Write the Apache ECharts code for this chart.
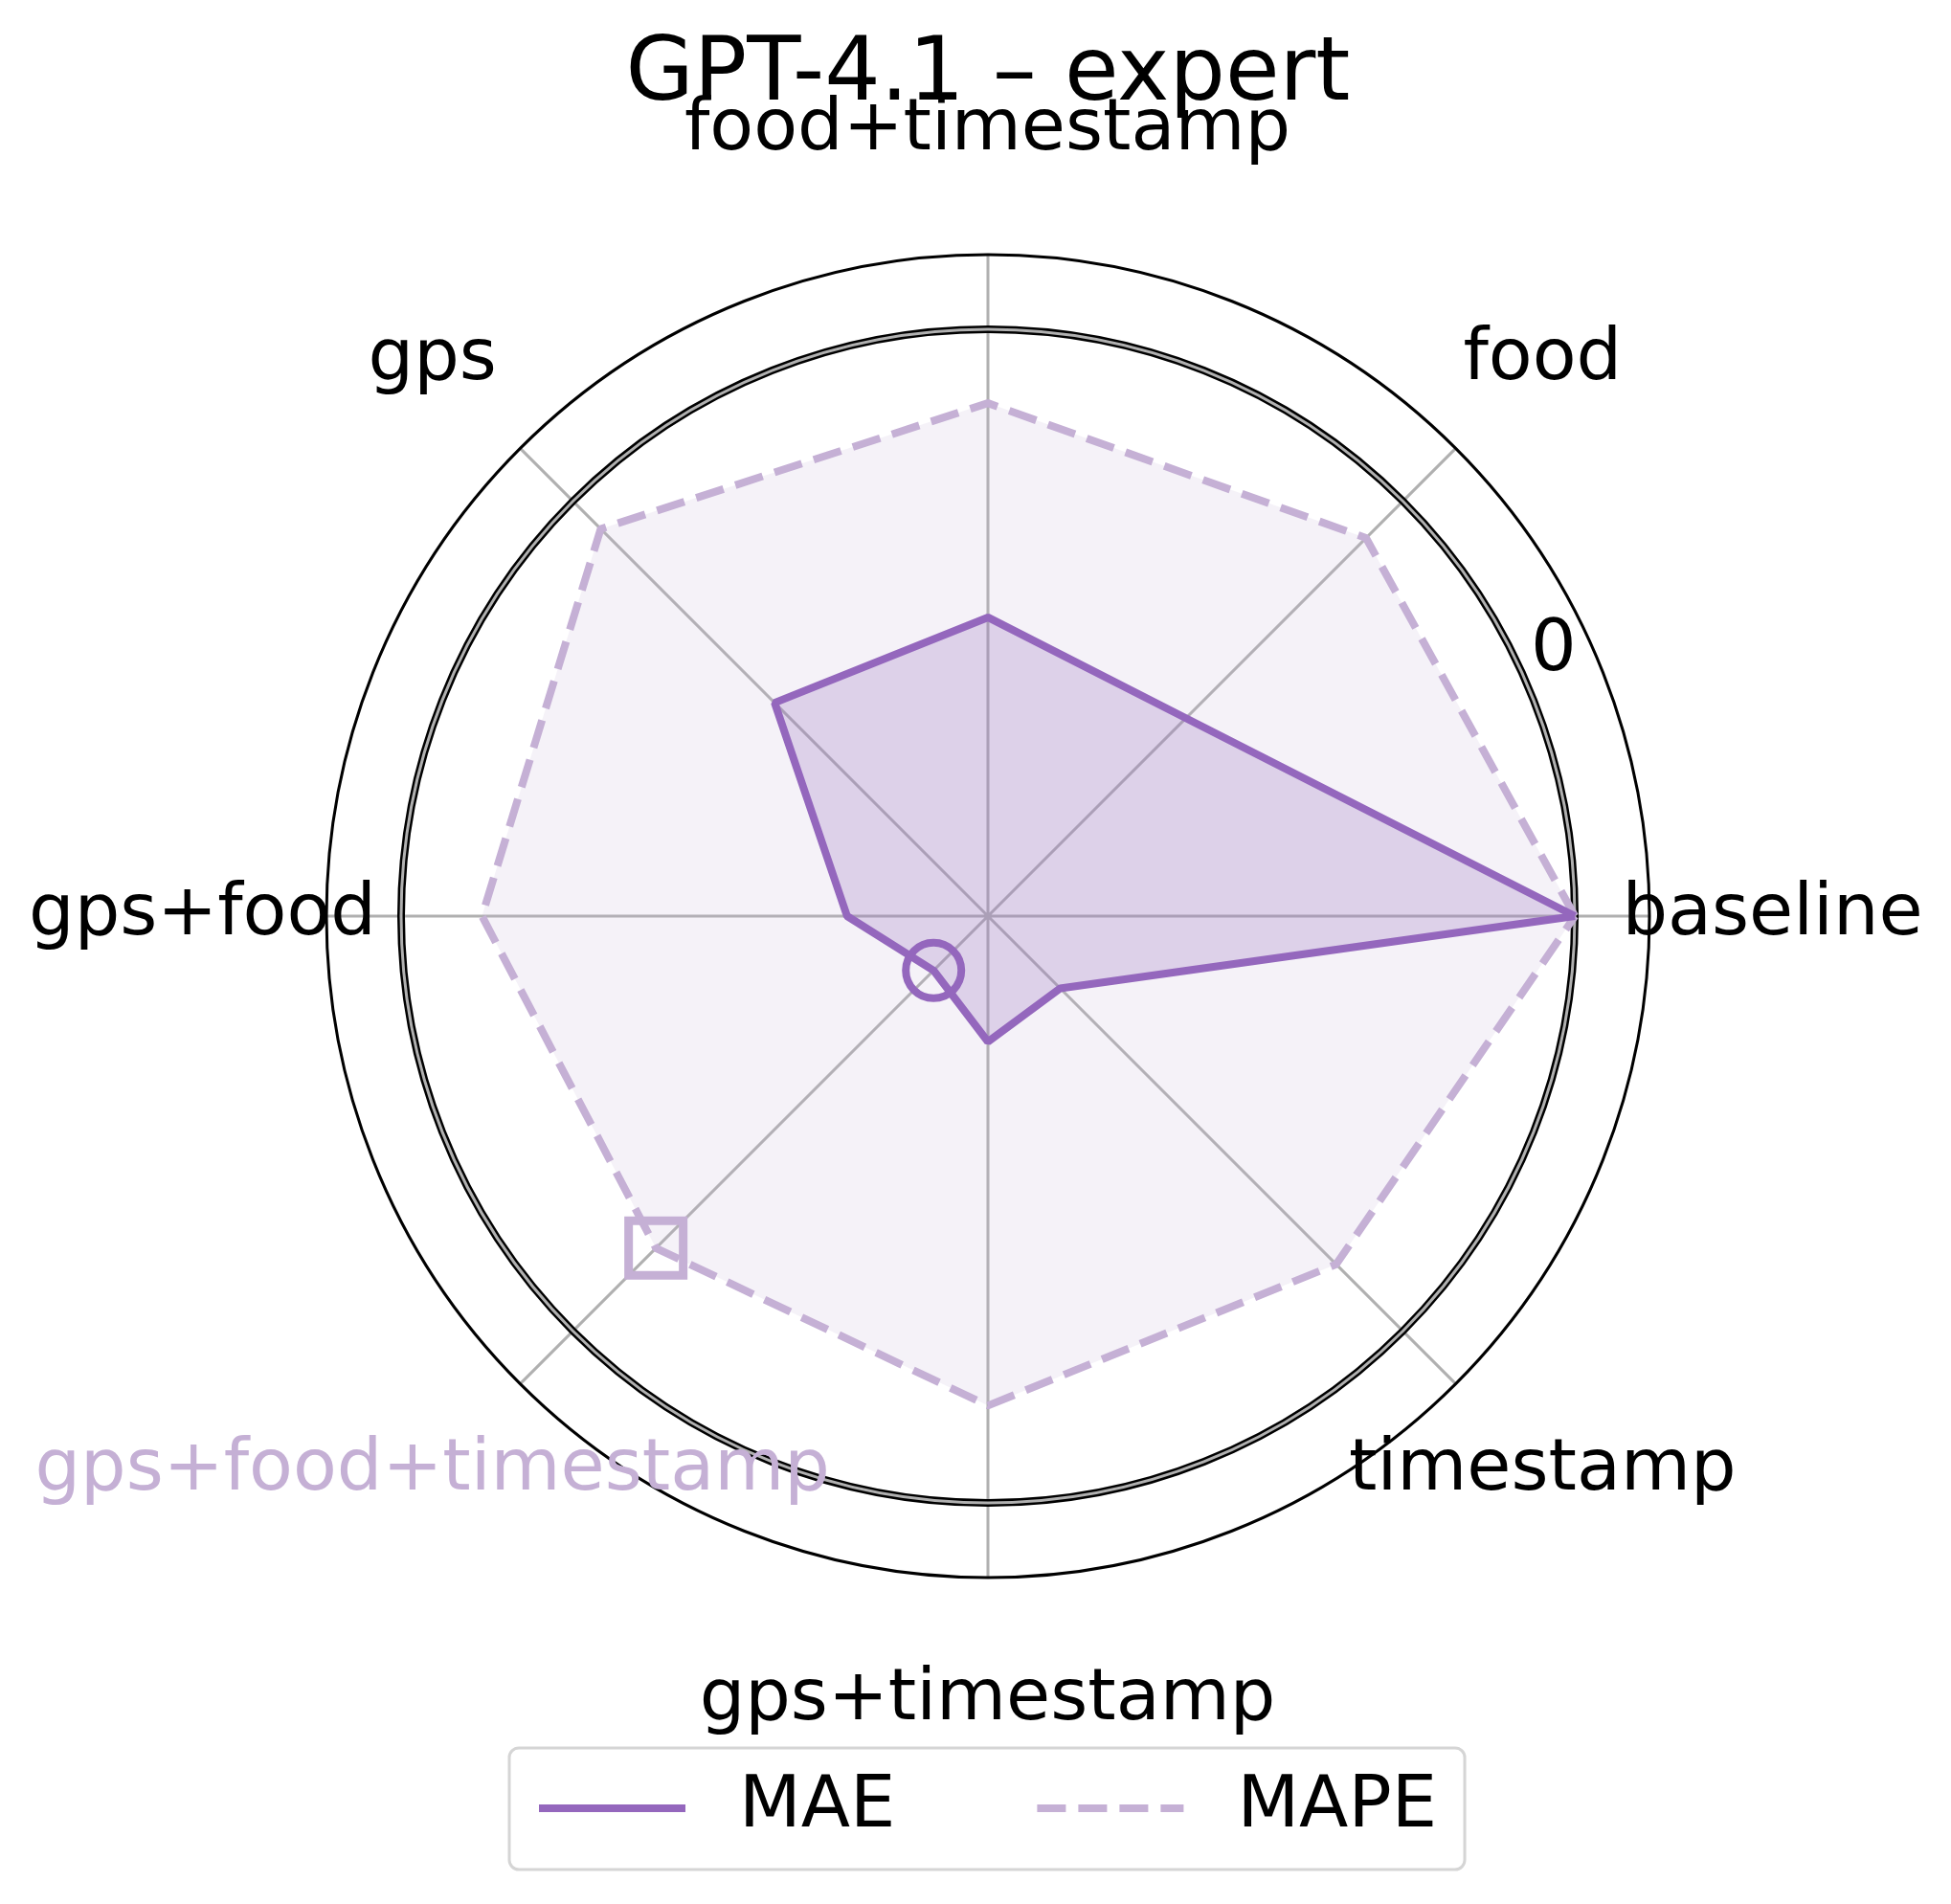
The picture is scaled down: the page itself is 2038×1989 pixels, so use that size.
<!DOCTYPE html>
<html>
<head>
<meta charset="utf-8">
<script src="https://cdn.jsdelivr.net/npm/echarts@6/dist/echarts.min.js"></script>
<style>
  html, body { margin: 0; padding: 0; background: #ffffff; }
  #chart { width: 2038px; height: 1989px; }
</style>
</head>
<body>
<div id="chart"></div>
<script>
// ---- data ----
const chartTitle = 'GPT-4.1 \u2013 expert';
const categories = ['baseline', 'food', 'food+timestamp', 'gps', 'gps+food', 'gps+food+timestamp', 'gps+timestamp', 'timestamp'];
const maeValues  = [1.000, 0.477, 0.509, 0.514, 0.240, 0.131, 0.214, 0.174];
const mapeValues = [1.000, 0.911, 0.874, 0.933, 0.862, 0.800, 0.834, 0.839];
const highlightIndex = 5;           // gps+food+timestamp
const seriesNames = ['MAE', 'MAPE'];
const radialTickLabels = ['0'];
const radialTickValues = [1.064];
const radialTickAngle = 25;
const ringValue = 1.0;              // highlighted reference ring
const radialMax = 1.127;

// ---- layout / style ----
const CX = 1032, CY = 957;
const R_OUTER = 691;
const R_RING = Math.round(R_OUTER * ringValue / radialMax);
const R_LABEL = 820;
const FONT = 'DejaVu Sans';
const MAE_COLOR = '#9467bd';
const MAPE_COLOR = '#c5b0d5';

const n = categories.length;
const angleOf = i => i * 360 / n;
function closedSeries(vals) {
  const pts = vals.map((v, i) => [v, angleOf(i)]);
  pts.push([vals[0], 360]);
  return pts;
}

function hiddenRadius(idx, max) {
  return { polarIndex: idx, type: 'value', min: 0, max: max, show: false,
           axisLine: {show: false}, axisTick: {show: false}, axisLabel: {show: false}, splitLine: {show: false} };
}
function ringAngle(idx, color, width, z) {
  return { polarIndex: idx, type: 'value', min: 0, max: 360, startAngle: 0, clockwise: false, z: z,
           axisLine: {show: true, lineStyle: {color: color, width: width}},
           axisTick: {show: false}, axisLabel: {show: false}, splitLine: {show: false} };
}
const centeredLabel = {
  show: true, position: [0, 0], align: 'center', verticalAlign: 'middle',
  formatter: p => p.name, fontFamily: FONT, fontSize: 75, color: '#000000',
  textBorderWidth: 0
};

const chart = echarts.init(document.getElementById('chart'), null, {renderer: 'canvas'});
const option = {
  backgroundColor: '#ffffff',
  animation: false,
  textStyle: { fontFamily: FONT },
  title: {
    text: chartTitle,
    left: CX, top: 30, textAlign: 'center', padding: 0,
    textStyle: { fontFamily: FONT, fontSize: 92, fontWeight: 'normal', color: '#000000', lineHeight: 100 }
  },
  legend: {
    data: seriesNames,
    left: 532, top: 1826,
    orient: 'horizontal',
    itemWidth: 153, itemHeight: 20, itemGap: 144,
    padding: [18, 29, 19, 27],
    borderColor: '#d5d5d5', borderWidth: 3, borderRadius: 10,
    backgroundColor: '#ffffff',
    selectedMode: false,
    itemStyle: { opacity: 0 },
    lineStyle: { width: 8 },
    textStyle: { fontFamily: FONT, fontSize: 75, color: '#000000', lineHeight: 90, padding: [0, 0, 0, 51] }
  },
  polar: [
    { center: [CX, CY], radius: R_OUTER },
    { center: [CX, CY], radius: R_RING },
    { center: [CX, CY], radius: R_RING },
    { center: [CX, CY], radius: R_LABEL }
  ],
  angleAxis: [
    { polarIndex: 0, type: 'value', min: 0, max: 360, interval: 360 / n, startAngle: 0, clockwise: false, z: 0,
      axisLine: {show: true, lineStyle: {color: '#000000', width: 3}},
      axisTick: {show: false}, axisLabel: {show: false},
      splitLine: {show: true, lineStyle: {color: '#b0b0b0', width: 3}} },
    ringAngle(1, '#000000', 8, 1),
    ringAngle(2, '#b0b0b0', 3, 1.5),
    { polarIndex: 3, type: 'value', min: 0, max: 360, startAngle: 0, clockwise: false, show: false }
  ],
  radiusAxis: [
    hiddenRadius(0, radialMax),
    hiddenRadius(1, 1),
    hiddenRadius(2, 1),
    hiddenRadius(3, 1)
  ],
  series: [
    {
      name: 'MAPE', type: 'line', coordinateSystem: 'polar', polarIndex: 0,
      data: closedSeries(mapeValues),
      symbol: 'none', smooth: false, z: 5,
      lineStyle: { color: MAPE_COLOR, width: 8, type: [30, 13], cap: 'butt' },
      itemStyle: { color: MAPE_COLOR },
      areaStyle: { color: MAPE_COLOR, opacity: 0.17 }
    },
    {
      name: 'MAE', type: 'line', coordinateSystem: 'polar', polarIndex: 0,
      data: closedSeries(maeValues),
      symbol: 'none', smooth: false, z: 6,
      lineStyle: { color: MAE_COLOR, width: 8, type: 'solid' },
      itemStyle: { color: MAE_COLOR },
      areaStyle: { color: MAE_COLOR, opacity: 0.24 }
    },
    {
      name: 'MAE-highlight', type: 'scatter', coordinateSystem: 'polar', polarIndex: 0, z: 7,
      data: [[maeValues[highlightIndex], angleOf(highlightIndex)]],
      symbol: 'circle', symbolSize: 58, silent: true,
      itemStyle: { color: 'rgba(0,0,0,0)', borderColor: MAE_COLOR, borderWidth: 8, opacity: 1 }
    },
    {
      name: 'MAPE-highlight', type: 'scatter', coordinateSystem: 'polar', polarIndex: 0, z: 7,
      data: [[mapeValues[highlightIndex], angleOf(highlightIndex)]],
      symbol: 'rect', symbolSize: 57, silent: true,
      itemStyle: { color: 'rgba(0,0,0,0)', borderColor: MAPE_COLOR, borderWidth: 9, opacity: 1 }
    },
    {
      name: 'radial-ticks', type: 'scatter', coordinateSystem: 'polar', polarIndex: 0, z: 8,
      data: radialTickValues.map((v, i) => ({ value: [v, radialTickAngle], name: radialTickLabels[i] })),
      symbolSize: 1, silent: true, itemStyle: { color: 'rgba(0,0,0,0)', opacity: 1 },
      label: centeredLabel
    },
    {
      name: 'category-labels', type: 'scatter', coordinateSystem: 'polar', polarIndex: 3, z: 8,
      data: categories.map((c, i) => ({
        value: [1, angleOf(i)], name: c,
        label: { color: i === highlightIndex ? MAPE_COLOR : '#000000' }
      })),
      symbolSize: 1, silent: true, itemStyle: { color: 'rgba(0,0,0,0)', opacity: 1 },
      label: centeredLabel
    }
  ]
};
chart.setOption(option);
</script>
</body>
</html>
